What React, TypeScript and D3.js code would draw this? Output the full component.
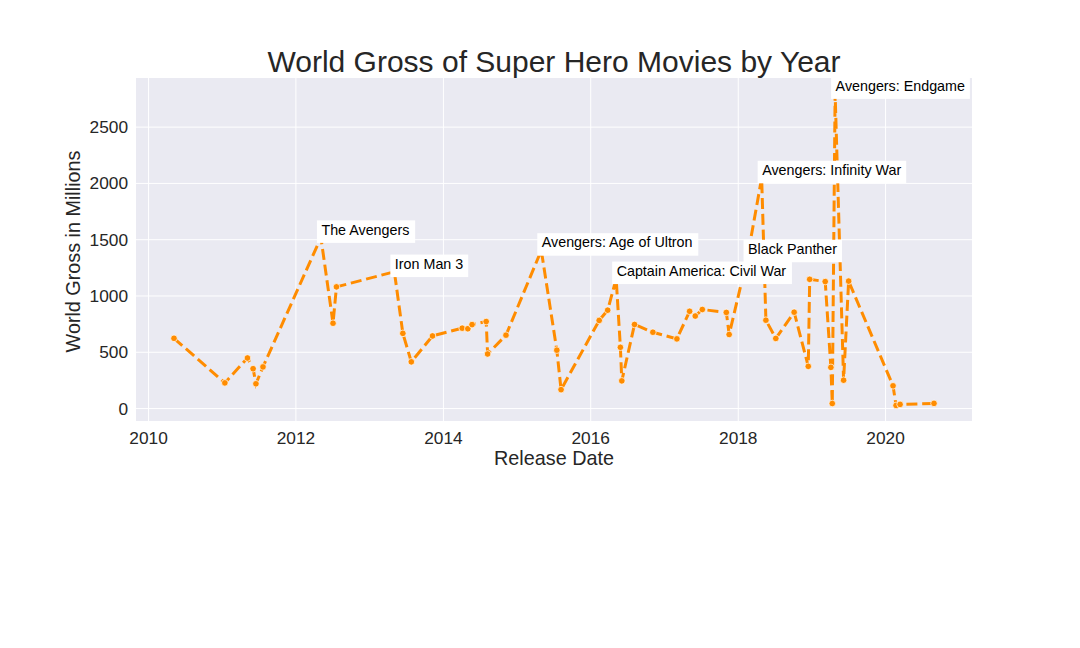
import React, { useEffect } from "react";
import * as d3 from "d3";

// Release dates and world gross (millions)
const releaseDates = [
  "2010-05-07", "2011-01-14", "2011-05-06", "2011-06-03", "2011-06-17", "2011-07-22",
  "2012-05-04", "2012-07-03", "2012-07-20", "2013-05-03", "2013-06-14", "2013-07-26",
  "2013-11-08", "2014-04-04", "2014-05-02", "2014-05-23", "2014-08-01", "2014-08-08",
  "2014-11-07", "2015-05-01", "2015-07-17", "2015-08-07", "2016-02-12", "2016-03-25",
  "2016-05-06", "2016-05-27", "2016-06-03", "2016-08-05", "2016-11-04", "2017-03-03",
  "2017-05-05", "2017-06-02", "2017-07-07", "2017-11-03", "2017-11-17", "2018-02-16",
  "2018-04-27", "2018-05-18", "2018-07-06", "2018-10-05", "2018-12-14", "2018-12-21",
  "2019-03-08", "2019-04-05", "2019-04-12", "2019-04-26", "2019-06-07", "2019-07-02",
  "2020-02-07", "2020-02-22", "2020-03-13", "2020-08-28",
];

const worldGross = [
  624, 228, 449, 354, 220, 370,
  1519, 758, 1081, 1215, 668, 415,
  645, 714, 709, 746, 773, 485,
  652, 1405, 519, 168, 783, 874,
  1153, 544, 246, 747, 678, 619,
  864, 822, 880, 854, 658, 1347,
  2048, 785, 623, 856, 375, 1148,
  1128, 366, 45, 2798, 252, 1132,
  202, 28, 37, 46,
];

// annotated movies
const labelNames = [
  "The Avengers", "Iron Man 3", "Avengers: Age of Ultron", "Captain America: Civil War",
  "Black Panther", "Avengers: Infinity War", "Avengers: Endgame",
];
const labelIndex = [6, 9, 19, 24, 35, 36, 45];

const yTicks = [0, 500, 1000, 1500, 2000, 2500];
const xTickYears = [2010, 2012, 2014, 2016, 2018, 2020];

const W = 1080;
const H = 648;
const margin = { top: 78, right: 108, bottom: 227, left: 136 };
const FONT = "'Liberation Sans', Arial, Helvetica, sans-serif";

export default function App() {
  useEffect(() => {
    document.body.style.margin = "0";
  }, []);

  const parse = d3.timeParse("%Y-%m-%d");
  const data = releaseDates.map((d, i) => ({ date: parse(d) as Date, value: worldGross[i] }));

  const innerW = W - margin.left - margin.right;
  const innerH = H - margin.top - margin.bottom;

  // matplotlib-like 5% padding
  const [t0, t1] = d3.extent(data, (d) => d.date.getTime()) as [number, number];
  const tPad = (t1 - t0) * 0.05;
  const x = d3.scaleTime()
    .domain([new Date(t0 - tPad), new Date(t1 + tPad)])
    .range([margin.left, margin.left + innerW]);

  const [v0, v1] = d3.extent(worldGross) as [number, number];
  const vPad = (v1 - v0) * 0.05;
  const y = d3.scaleLinear()
    .domain([v0 - vPad, v1 + vPad])
    .range([margin.top + innerH, margin.top]);

  const line = d3.line<{ date: Date; value: number }>()
    .x((d) => x(d.date))
    .y((d) => y(d.value));

  const xTicks = xTickYears.map((yr) => new Date(yr, 0, 1));
  const orange = "#ff8c00";
  const labelSize = 14.3;

  // text width for label boxes
  const measure = (s: string) => {
    const canvas = document.createElement("canvas");
    const ctx = canvas.getContext("2d");
    if (!ctx) return s.length * 7.5;
    ctx.font = `${labelSize}px ${FONT}`;
    return ctx.measureText(s).width;
  };

  return (
    <svg width={W} height={H} style={{ display: "block", background: "#fff" }} fontFamily={FONT}>
      <rect x={margin.left} y={margin.top} width={innerW} height={innerH} fill="#eaeaf2" />

      {/* grid */}
      {xTicks.map((t, i) => (
        <line key={"gx" + i} x1={x(t)} x2={x(t)} y1={margin.top} y2={margin.top + innerH}
          stroke="#fff" strokeWidth={1} />
      ))}
      {yTicks.map((v) => (
        <line key={"gy" + v} x1={margin.left} x2={margin.left + innerW} y1={y(v)} y2={y(v)}
          stroke="#fff" strokeWidth={1} />
      ))}

      {/* tick labels */}
      {xTicks.map((t, i) => (
        <text key={"tx" + i} x={x(t)} y={margin.top + innerH + 23} textAnchor="middle"
          fontSize={17.3} fill="#262626">{xTickYears[i]}</text>
      ))}
      {yTicks.map((v) => (
        <text key={"ty" + v} x={margin.left - 8} y={y(v) + 6} textAnchor="end"
          fontSize={17.3} fill="#262626">{v}</text>
      ))}

      {/* axis labels and title */}
      <text x={margin.left + innerW / 2} y={465} textAnchor="middle" fontSize={19.8} fill="#262626">
        Release Date
      </text>
      <text transform={`translate(80,${margin.top + innerH / 2 + 2}) rotate(-90)`} textAnchor="middle"
        fontSize={19.8} fill="#262626">World Gross in Millions</text>
      <text x={margin.left + innerW / 2} y={72} textAnchor="middle" fontSize={30} fill="#262626">
        World Gross of Super Hero Movies by Year
      </text>

      {/* series */}
      <path d={line(data) ?? ""} fill="none" stroke={orange} strokeWidth={3}
        strokeDasharray="11,4.8" />
      {data.map((d, i) => (
        <circle key={"p" + i} cx={x(d.date)} cy={y(d.value)} r={3.3} fill={orange}
          stroke="#fff" strokeWidth={0.7} />
      ))}

      {/* annotations */}
      {labelIndex.map((idx, i) => {
        const d = data[idx];
        const tx = x(d.date) + 0.5;
        const ty = y(d.value) - 3;
        const w = measure(labelNames[i]);
        return (
          <g key={"lab" + i}>
            <rect x={tx - 4.5} y={ty - 14.2} width={w + 9.5} height={22.5} fill="#fff" />
            <text x={tx} y={ty} fontSize={labelSize} fill="#000">{labelNames[i]}</text>
          </g>
        );
      })}
    </svg>
  );
}
